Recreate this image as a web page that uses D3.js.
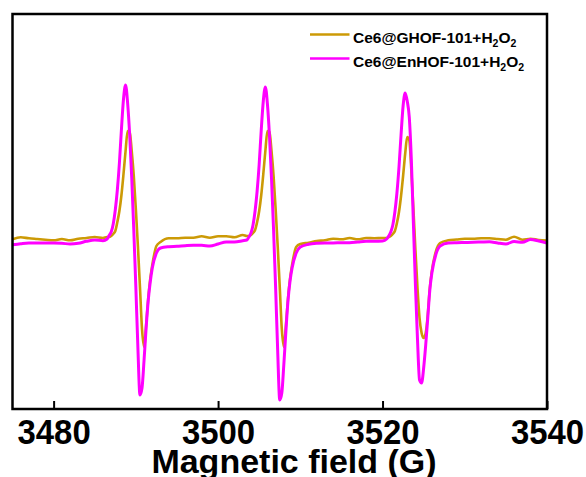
<!DOCTYPE html>
<html>
<head>
<meta charset="utf-8">
<script src="https://cdn.jsdelivr.net/npm/d3@7"></script>
<style>
  body { margin: 0; background: #ffffff; }
  svg { display: block; }
  text { font-family: "Liberation Sans", Arial, Helvetica, sans-serif; font-weight: bold; fill: #000; }
</style>
</head>
<body>
<svg id="chart" width="586" height="477"></svg>
<script>
// Magnetic field sampling points (G)
const fieldG = [
  3475, 3476, 3477, 3478, 3479, 3480, 3481, 3482, 3483, 3484, 3485, 3486,
  3486.5, 3486.75, 3487, 3487.25, 3487.5, 3487.75, 3488, 3488.25, 3488.5, 3488.75,
  3489, 3489.25, 3489.5, 3489.75, 3490, 3490.25, 3490.5, 3490.75, 3491, 3491.25,
  3491.5, 3491.75, 3492, 3492.5, 3493,
  3494, 3495, 3496, 3497, 3498, 3499, 3500, 3501, 3502, 3503,
  3503.5, 3503.75, 3504, 3504.25, 3504.5, 3504.75, 3505, 3505.25, 3505.5, 3505.75,
  3506, 3506.25, 3506.5, 3506.75, 3507, 3507.25, 3507.5, 3507.75, 3508, 3508.25,
  3508.5, 3508.75, 3509, 3509.5, 3510,
  3511, 3512, 3513, 3514, 3515, 3516, 3517, 3518, 3519, 3520,
  3520.5, 3520.75, 3521, 3521.25, 3521.5, 3521.75, 3522, 3522.25, 3522.5, 3522.75,
  3523, 3523.25, 3523.5, 3523.75, 3524, 3524.25, 3524.5, 3524.75, 3525, 3525.25,
  3525.5, 3525.75, 3526, 3526.5, 3527,
  3528, 3529, 3530, 3531, 3532, 3533, 3534, 3535, 3536, 3537, 3538, 3539, 3540
];

// EPR signal intensity (a.u.), Ce6@GHOF-101 + H2O2
const goldSignal = [
  1.7, 3.7, 2.7, 2, 1.3, 0.7, 2, 0.7, 2.3, 3, 4, 3,
  4, 4, 5, 7, 10, 19, 30, 46, 67, 90,
  110, 109, 90, 65, 32, -5, -46, -88, -106, -84,
  -58, -38, -24, -5, -1,
  2.7, 2.7, 3.3, 3.3, 4.7, 3.3, 4.7, 4.7, 3.7, 6,
  5, 5, 6, 8, 11, 19, 30, 46, 67, 90,
  110, 109, 90, 65, 32, -5, -46, -88, -106, -84,
  -58, -38, -24, -6, -3,
  -1.7, 0, 0.7, 2.3, 1.7, 3, 1.7, 3, 2.7, 3,
  3, 4, 5, 7, 10, 18, 29, 45, 65, 87,
  104, 101, 71, 33, -9, -47, -77, -92, -97, -92,
  -74, -47, -30, -10, -2,
  0.7, 1.5, 2.3, 2.3, 2.7, 2.7, 2, 1.3, 4.3, 1.3, 2.3, 1, 0.5
];

// EPR signal intensity (a.u.), Ce6@EnHOF-101 + H2O2
const pinkSignal = [
  -3.7, -2.7, -2, -2, -2, -2, -2.3, -3, -2.3, -0.3, 1, 0.3,
  2, 5.5, 9, 17, 31, 51, 78, 112, 142, 156,
  138, 106, 63, 11, -46, -107, -154, -147, -119, -87,
  -60, -41, -27, -12, -7,
  -5.7, -5.3, -4.7, -4.3, -4.3, -5, -3, -1, -1, 0.3,
  1, 4, 8, 16, 30, 50, 77, 111, 140, 154,
  137, 105, 62, 11, -47, -110, -159, -152, -123, -90,
  -60, -40, -27, -12, -6,
  -3.3, -2.3, -2, -2, -1.7, -1.7, -1, -0.3, -0.3, 0,
  2, 5, 9, 16, 29, 48, 74, 106, 135, 148,
  140, 124, 82, 18, -44, -98, -139, -142, -127, -104,
  -77, -49, -32, -13, -5,
  -2, -1.7, -1.5, -1.3, -1, -0.7, -2, -3, -0.5, -1.3, 1.5, 0, -2
];

const seriesNames = ["Ce6@GHOF-101+H", "Ce6@EnHOF-101+H"];
const seriesColors = ["#CC9A06", "#FF00FF"];
const xTicks = [3480, 3500, 3520, 3540];
const xLabel = "Magnetic field (G)";

const svg = d3.select("#chart");
const plot = { left: 12.5, right: 547, top: 14, bottom: 409 };

const x = d3.scaleLinear().domain([3475, 3540]).range([plot.left, plot.right]);
const y = d3.scaleLinear().domain([-168, 227]).range([plot.bottom, plot.top]);

const series = [goldSignal, pinkSignal].map((vals, i) => ({
  name: seriesNames[i],
  color: seriesColors[i],
  points: fieldG.map((g, j) => ({ g, v: vals[j] }))
}));

const line = d3.line()
  .x(d => x(d.g))
  .y(d => y(d.v))
  .curve(d3.curveMonotoneX);

svg.append("defs").append("clipPath").attr("id", "plotClip")
  .append("rect")
  .attr("x", plot.left).attr("y", plot.top)
  .attr("width", plot.right - plot.left).attr("height", plot.bottom - plot.top);

const lines = svg.append("g").attr("clip-path", "url(#plotClip)");
series.forEach((s, i) => {
  lines.append("path")
    .datum(s.points)
    .attr("fill", "none")
    .attr("stroke", s.color)
    .attr("stroke-width", i === 0 ? 2.6 : 3)
    .attr("stroke-linejoin", "round")
    .attr("d", line);
});

// bottom axis with inward ticks
const xAxis = d3.axisBottom(x)
  .tickValues(xTicks)
  .tickFormat(d3.format("d"))
  .tickSizeInner(-8)
  .tickSizeOuter(0)
  .tickPadding(10);

const gx = svg.append("g")
  .attr("transform", `translate(0,${plot.bottom})`)
  .call(xAxis);
gx.select(".domain").remove();
gx.selectAll(".tick line").attr("stroke", "#000").attr("stroke-width", 2);
gx.selectAll(".tick text")
  .attr("font-size", 35)
  .attr("font-family", "'Liberation Sans', Arial, sans-serif")
  .attr("font-weight", "bold")
  .attr("fill", "#000")
  .attr("transform", "scale(0.94,1)");

// frame
svg.append("rect")
  .attr("x", plot.left).attr("y", plot.top)
  .attr("width", plot.right - plot.left).attr("height", plot.bottom - plot.top)
  .attr("fill", "none")
  .attr("stroke", "#000")
  .attr("stroke-width", 2.5);

// axis title
svg.append("text")
  .attr("x", 294)
  .attr("y", 473)
  .attr("text-anchor", "middle")
  .attr("font-size", 34)
  .text(xLabel);

// legend
const legend = svg.append("g");
series.forEach((s, i) => {
  const ly = 34.5 + i * 24;
  legend.append("line")
    .attr("x1", 310).attr("x2", 349.5)
    .attr("y1", ly).attr("y2", ly)
    .attr("stroke", s.color)
    .attr("stroke-width", 2.6);
  const t = legend.append("text")
    .attr("x", 353)
    .attr("y", ly + 8)
    .attr("font-size", 15.5);
  t.append("tspan").text(s.name);
  t.append("tspan").attr("dy", 4).attr("font-size", 10.5).text("2");
  t.append("tspan").attr("dy", -4).text("O");
  t.append("tspan").attr("dy", 4).attr("font-size", 10.5).text("2");
});
</script>
</body>
</html>
